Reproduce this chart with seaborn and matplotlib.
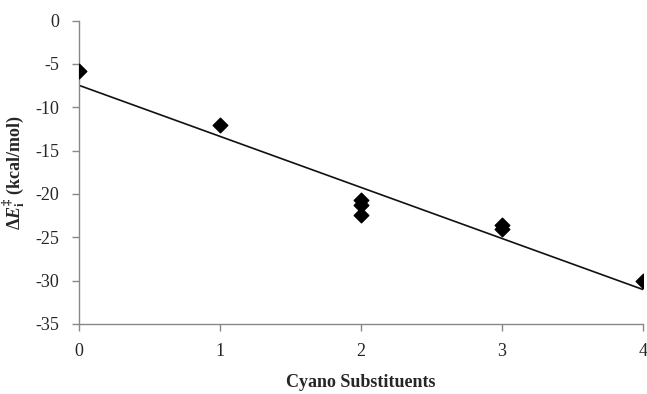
import matplotlib
matplotlib.use("Agg")
import matplotlib.pyplot as plt
import seaborn as sb
import pandas as pd

# DATA
# -----------------------------
cyano = [0, 1, 2, 2, 2, 3, 3, 4]
energy = [-5.8, -12.0, -20.7, -21.3, -22.4, -23.6, -24.1, -30.0]
x_ticks = [0, 1, 2, 3, 4]
y_ticks = [0, -5, -10, -15, -20, -25, -30, -35]

df = pd.DataFrame({"cyano": cyano, "energy": energy})

# STYLE
# -----------------------------
sb.set_style("white")
plt.rcParams["font.family"] = ["Liberation Serif", "DejaVu Serif"]
plt.rcParams["axes.unicode_minus"] = False
plt.rcParams["mathtext.fontset"] = "custom"
plt.rcParams["mathtext.rm"] = "Liberation Serif:bold"
plt.rcParams["mathtext.it"] = "Liberation Serif:bold:italic"
plt.rcParams["mathtext.bf"] = "Liberation Serif:bold"

# PLOT
# -----------------------------
fig = plt.figure(figsize=(6.47, 3.94), dpi=100)
ax = fig.add_axes([0.122, 0.178, 0.872, 0.7695])

sb.regplot(data=df, x="cyano", y="energy", ci=None, ax=ax, marker="D",
           scatter_kws={"color": "black", "edgecolor": "black", "alpha": 1,
                        "s": 55, "zorder": 3},
           line_kws={"color": "#111111", "linewidth": 1.2})

ax.set_xlim(0, 4)
ax.set_ylim(-35, 0)
ax.set_xticks(x_ticks)
ax.set_yticks(y_ticks)
ax.tick_params(axis="both", labelsize=13, color="#888888", length=5,
               width=1, direction="out", bottom=True, left=True, pad=9)
for side in ["top", "right"]:
    ax.spines[side].set_visible(False)
for side in ["left", "bottom"]:
    ax.spines[side].set_color("#888888")
    ax.spines[side].set_linewidth(1)

ax.set_xlabel("Cyano Substituents", fontsize=13, fontweight="bold", labelpad=10)
ax.set_ylabel(r"$\Delta\mathit{E}^{\ddagger}_{\mathrm{i}}$ (kcal/mol)",
              fontsize=13, fontweight="bold", labelpad=6)

for lab in ax.get_xticklabels() + ax.get_yticklabels():
    lab.set_clip_on(False)

plt.savefig("out.png", dpi=100)
